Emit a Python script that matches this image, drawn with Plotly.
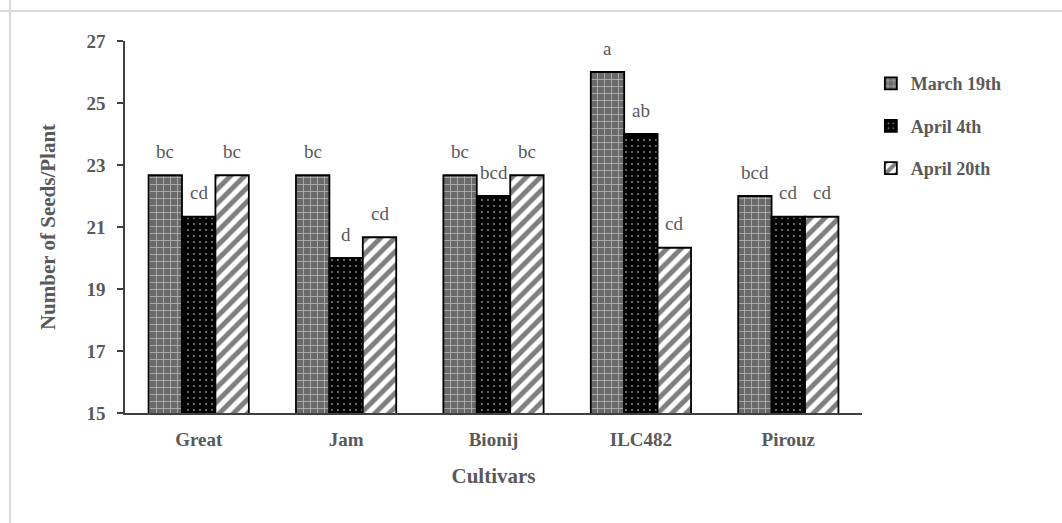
import plotly.graph_objects as go

# Seeds per plant by cultivar and sowing date
cultivars = ["Great", "Jam", "Bionij", "ILC482", "Pirouz"]
sowing_dates = ["March 19th", "April 4th", "April 20th"]
march_19 = [22.67, 22.67, 22.67, 26.0, 22.0]
april_4 = [21.33, 20.0, 22.0, 24.0, 21.33]
april_20 = [22.67, 20.67, 22.67, 20.33, 21.33]
# Mean-separation letters
letters_march_19 = ["bc", "bc", "bc", "a", "bcd"]
letters_april_4 = ["cd", "d", "bcd", "ab", "cd"]
letters_april_20 = ["bc", "cd", "bc", "cd", "cd"]
y_ticks = [15, 17, 19, 21, 23, 25, 27]

series = [march_19, april_4, april_20]
letters = [letters_march_19, letters_april_4, letters_april_20]

GRAY = "#595959"
SERIF = "Liberation Serif, Times New Roman, serif"

patterns = [
    dict(shape="+", bgcolor="#6a6a6a", fgcolor="white", size=7, solidity=0.22),
    dict(shape=".", bgcolor="black", fgcolor="white", size=6, solidity=0.1),
    dict(shape="/", bgcolor="white", fgcolor="black", size=10, solidity=0.5),
]

fig = go.Figure()
for i, (name, vals) in enumerate(zip(sowing_dates, series)):
    fig.add_trace(go.Bar(
        x=cultivars, y=vals, name=name, legendgroup=name,
        marker=dict(color="white", pattern=patterns[i],
                    line=dict(color="black", width=1.8)),
        base=0,
    ))

# letters above each bar: bars are 1/3 of the group width each
left, right = 125, 862
group_px = (right - left) / len(cultivars)
bargap = 0.32
bar_px = group_px * (1 - bargap) / 3
for i, (vals, labs) in enumerate(zip(series, letters)):
    for c, v, lab in zip(cultivars, vals, labs):
        fig.add_annotation(
            x=c, y=v, text=lab, showarrow=False,
            xshift=(i - 1) * bar_px, yshift=24,
            font=dict(family=SERIF, size=19, color=GRAY),
        )

# page border lines
fig.add_shape(type="line", xref="paper", yref="paper", x0=-0.2, x1=1.3,
              y0=(523 - 11 - 110) / 372, y1=(523 - 11 - 110) / 372,
              line=dict(color="#d9d9d9", width=2))
fig.add_shape(type="line", xref="paper", yref="paper",
              x0=(10 - 125) / 737, x1=(10 - 125) / 737, y0=-0.4, y1=1.2,
              line=dict(color="#d9d9d9", width=2))

fig.update_layout(
    width=1062, height=523,
    margin=dict(l=left, r=1062 - right, t=41, b=110),
    plot_bgcolor="white", paper_bgcolor="white",
    barmode="group", bargap=bargap, bargroupgap=0,
    font=dict(family=SERIF, color=GRAY),
    legend=dict(
        x=1.012, y=0.935, xanchor="left", yanchor="top",
        font=dict(family=SERIF, size=18, color=GRAY, weight="bold"),
        tracegroupgap=16, itemwidth=30,
        bgcolor="rgba(0,0,0,0)",
    ),
    xaxis=dict(
        title=dict(text="Cultivars", font=dict(family=SERIF, size=21, color=GRAY, weight="bold"),
                   standoff=20),
        showline=True, linecolor="#404040", linewidth=1.5,
        ticks="", tickfont=dict(family=SERIF, size=19, color=GRAY, weight="bold"),
        ticklabelstandoff=8,
        showgrid=False,
    ),
    yaxis=dict(
        title=dict(text="Number of Seeds/Plant", font=dict(family=SERIF, size=21, color=GRAY, weight="bold"),
                   standoff=25),
        range=[15, 27], tickvals=y_ticks,
        showline=True, linecolor="#404040", linewidth=1.5,
        ticks="outside", ticklen=6, tickcolor="#404040", tickwidth=1.5,
        tickfont=dict(family=SERIF, size=19, color=GRAY, weight="bold"),
        ticklabelstandoff=8,
        showgrid=False, zeroline=False,
    ),
)

fig.write_html("out.html")
